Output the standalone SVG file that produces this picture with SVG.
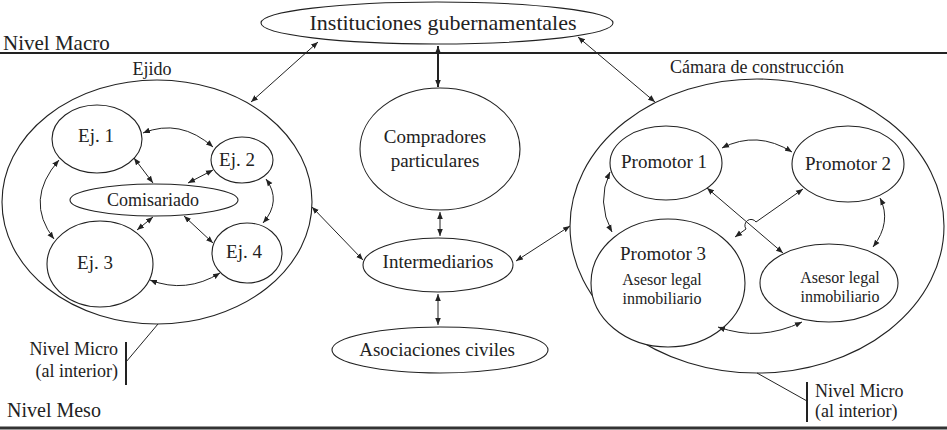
<svg xmlns="http://www.w3.org/2000/svg" width="947" height="430" viewBox="0 0 947 430" font-family="'Liberation Serif', 'DejaVu Serif', serif" font-size="18">
<defs>
<marker id="ah" viewBox="0 0 10 10" refX="10" refY="5" markerWidth="7" markerHeight="7" markerUnits="userSpaceOnUse" orient="auto-start-reverse">
<path d="M0,1 L10,5 L0,9 z" fill="#222"/>
</marker>
<style>
.n{fill:#fff;stroke:#222;stroke-width:1.1}
.t{font-family:'Liberation Serif','DejaVu Serif',serif;fill:#222}
.c{text-anchor:middle}
.e{fill:none;stroke:#222;stroke-width:1;marker-start:url(#ah);marker-end:url(#ah)}
.p{fill:none;stroke:#222;stroke-width:1}
</style>
</defs>
<rect width="947" height="430" fill="#fff"/>

<g id="levels">
<line x1="0" y1="53" x2="947" y2="53" stroke="#222" stroke-width="2"/>
<text class="t" x="3" y="50" font-size="21">Nivel Macro</text>
<text class="t" x="7" y="417" font-size="20">Nivel Meso</text>
<line x1="0" y1="428" x2="947" y2="428" stroke="#333" stroke-width="3"/>
</g>

<g id="ejido">
<ellipse class="n" cx="157" cy="202" rx="155" ry="122"/>
<text class="t c" x="152" y="75" font-size="18">Ejido</text>
</g>
<g id="camara">
<ellipse class="n" cx="757" cy="226" rx="187" ry="147"/>
<text class="t c" x="757" y="73" font-size="18">Cámara de construcción</text>
</g>

<g id="instituciones">
<ellipse class="n" cx="437" cy="23" rx="176" ry="21"/>
<text class="t c" x="443" y="30" font-size="22">Instituciones gubernamentales</text>
</g>
<g id="compradores">
<ellipse class="n" cx="440" cy="149" rx="80" ry="61"/>
<text class="t c" x="435" y="143" font-size="19">Compradores</text>
<text class="t c" x="435" y="167" font-size="19">particulares</text>
</g>
<g id="intermediarios">
<ellipse class="n" cx="438" cy="265" rx="75" ry="27"/>
<text class="t c" x="438" y="268" font-size="19">Intermediarios</text>
</g>
<g id="asociaciones">
<ellipse class="n" cx="440" cy="350" rx="108" ry="23"/>
<text class="t c" x="437" y="356" font-size="19">Asociaciones civiles</text>
</g>

<g id="ej1">
<ellipse class="n" cx="97" cy="139" rx="45" ry="34"/>
<text class="t c" x="96" y="142" font-size="19">Ej. 1</text>
</g>
<g id="ej2">
<ellipse class="n" cx="242" cy="160" rx="31" ry="23"/>
<text class="t c" x="237" y="166" font-size="19">Ej. 2</text>
</g>
<g id="comisariado">
<ellipse class="n" cx="154" cy="200" rx="84" ry="16"/>
<text class="t c" x="153" y="206" font-size="18">Comisariado</text>
</g>
<g id="ej3">
<ellipse class="n" cx="100" cy="264" rx="53" ry="43"/>
<text class="t c" x="95" y="269" font-size="19">Ej. 3</text>
</g>
<g id="ej4">
<ellipse class="n" cx="247" cy="253" rx="35" ry="30"/>
<text class="t c" x="244" y="258" font-size="19">Ej. 4</text>
</g>

<g id="promotor1">
<ellipse class="n" cx="666" cy="163" rx="56" ry="37"/>
<text class="t c" x="664" y="168" font-size="19">Promotor 1</text>
</g>
<g id="promotor2">
<ellipse class="n" cx="848" cy="164" rx="56" ry="38"/>
<text class="t c" x="848" y="170" font-size="19">Promotor 2</text>
</g>
<g id="promotor3">
<ellipse class="n" cx="668" cy="283" rx="77" ry="64"/>
<text class="t c" x="663" y="260" font-size="19">Promotor 3</text>
<text class="t c" x="662" y="285" font-size="16">Asesor legal</text>
<text class="t c" x="662" y="304" font-size="16">inmobiliario</text>
</g>
<g id="asesor">
<ellipse class="n" cx="829" cy="283" rx="69" ry="39"/>
<text class="t c" x="840" y="283" font-size="16">Asesor legal</text>
<text class="t c" x="840" y="302" font-size="16">inmobiliario</text>
</g>

<g id="micro-left">
<text class="t" x="118" y="355" font-size="18" text-anchor="end">Nivel Micro</text>
<text class="t" x="118" y="377" font-size="18" text-anchor="end">(al interior)</text>
<line x1="126" y1="342" x2="126" y2="385" stroke="#222" stroke-width="2"/>
</g>
<g id="micro-right">
<text class="t" x="815" y="397" font-size="18">Nivel Micro</text>
<text class="t" x="815" y="417" font-size="18">(al interior)</text>
<line x1="807" y1="382" x2="807" y2="422" stroke="#222" stroke-width="2"/>
</g>

<g id="connectors">
<line class="p" x1="126" y1="362" x2="158" y2="324"/>
<line class="p" x1="807" y1="401" x2="757" y2="373"/>
<line class="e" x1="318" y1="42" x2="251" y2="102"/>
<line class="e" x1="578" y1="37" x2="655" y2="102"/>
<line class="e" x1="438" y1="46" x2="438" y2="87" style="stroke-width:2"/>
<line class="e" x1="440" y1="212" x2="440" y2="236"/>
<line class="e" x1="438" y1="294" x2="438" y2="325"/>
<line class="e" x1="312" y1="207" x2="363" y2="260"/>
<line class="e" x1="516" y1="261" x2="570" y2="226"/>

<path class="e" d="M143,133 Q180,118 213,147"/>
<line class="e" x1="134" y1="158" x2="153" y2="183"/>
<line class="e" x1="213" y1="170" x2="188" y2="183"/>
<path class="e" d="M59,160 Q24,200 54,239"/>
<path class="e" d="M266,179 Q282,201 263,223"/>
<line class="e" x1="153" y1="217" x2="137" y2="230"/>
<line class="e" x1="184" y1="216" x2="213" y2="243"/>
<path class="e" d="M150,280 Q186,294 220,273"/>

<path class="e" d="M722,148 Q757,130 792,152"/>
<path class="e" d="M610,172 Q596,202 612,232"/>
<path class="e" d="M880,198 Q892,222 873,247"/>
<line class="e" x1="707" y1="188" x2="783" y2="253"/>
<path class="e" d="M803,189 L756,222 A6,6 0 0 0 746,229 L735,237"/>
<path class="e" d="M718,327 Q760,342 802,322"/>
</g>
</svg>
